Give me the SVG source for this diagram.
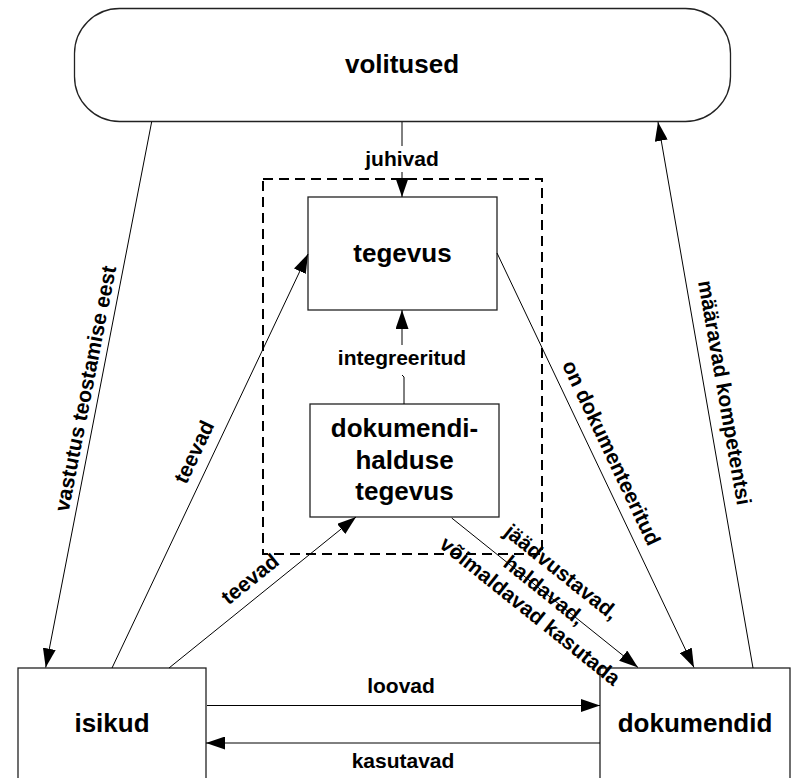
<svg xmlns="http://www.w3.org/2000/svg" width="797" height="778" viewBox="0 0 797 778">
<style>
.box{fill:#fff;stroke:#222;stroke-width:1.3}
.nt{font-family:"Liberation Sans",Arial,sans-serif;font-weight:bold;font-size:26px;fill:#000;text-anchor:middle}
.lt{font-family:"Liberation Sans",Arial,sans-serif;font-weight:bold;font-size:21px;fill:#000;text-anchor:middle}
.cn{fill:none;stroke:#000;stroke-width:1}
.dash{fill:none;stroke:#000;stroke-width:2;stroke-dasharray:10 6}
</style>
<defs>
<marker id="ah" viewBox="0 0 19 13" refX="19" refY="6.5" markerWidth="19" markerHeight="13" markerUnits="userSpaceOnUse" orient="auto">
<path d="M0,0 L19,6.5 L0,13 z" fill="#000"/>
</marker>
</defs>
<rect class="dash" x="263" y="179" width="279" height="375"/>
<g id="volitused">
<rect class="box" x="74.5" y="8.5" width="656" height="113" rx="45" ry="45"/>
<text class="nt" x="402" y="73">volitused</text>
</g>
<g id="tegevus">
<rect class="box" x="308" y="197" width="189" height="113"/>
<text class="nt" x="402.5" y="262">tegevus</text>
</g>
<g id="dokumendihalduse">
<rect class="box" x="310" y="404" width="189" height="113"/>
<text class="nt" x="404.5" y="437">dokumendi-</text>
<text class="nt" x="404.5" y="469">halduse</text>
<text class="nt" x="404.5" y="500">tegevus</text>
</g>
<g id="isikud">
<rect class="box" x="18" y="668" width="188" height="130"/>
<text class="nt" x="112" y="732">isikud</text>
</g>
<g id="dokumendid">
<rect class="box" x="600" y="668" width="190" height="130"/>
<text class="nt" x="695" y="732">dokumendid</text>
</g>
<g id="connectors">
<path class="cn" d="M402,122 V146"/>
<path class="cn" d="M402,172 V197" marker-end="url(#ah)"/>
<text class="lt" x="402" y="166">juhivad</text>
<path class="cn" d="M404,404 V377 L402,375"/>
<path class="cn" d="M402,345 V310" marker-end="url(#ah)"/>
<text class="lt" x="402" y="365">integreeritud</text>
<path class="cn" d="M151.7,121.7 L45.7,667.5" marker-end="url(#ah)"/>
<text class="lt" transform="translate(92.4,390) rotate(-79)">vastutus teostamise eest</text>
<path class="cn" d="M112,668 L308,254" marker-end="url(#ah)"/>
<text class="lt" transform="translate(200.5,455) rotate(-64.7)">teevad</text>
<path class="cn" d="M169,668 L356,517" marker-end="url(#ah)"/>
<text class="lt" transform="translate(254.5,584.6) rotate(-38.9)">teevad</text>
<path class="cn" d="M497,253 L694,667.5" marker-end="url(#ah)"/>
<text class="lt" transform="translate(605,456) rotate(64.6)">on dokumenteeritud</text>
<path class="cn" d="M753,668 L658,122" marker-end="url(#ah)"/>
<text class="lt" transform="translate(717.6,393.8) rotate(80.1)">määravad kompetentsi</text>
<path class="cn" d="M451.7,518 L638,667.5" marker-end="url(#ah)"/>
<g transform="translate(544.5,590) rotate(38.7)">
<text class="lt" x="2" y="-17.5">jäädvustavad,</text>
<text class="lt" x="0" y="7.5">haldavad,</text>
<text class="lt" x="2" y="32.5">võimaldavad kasutada</text>
</g>
<path class="cn" d="M207,705.5 H600" marker-end="url(#ah)"/>
<text class="lt" x="401" y="693">loovad</text>
<path class="cn" d="M600,743 H206" marker-end="url(#ah)"/>
<text class="lt" x="403" y="768">kasutavad</text>
</g>
</svg>
